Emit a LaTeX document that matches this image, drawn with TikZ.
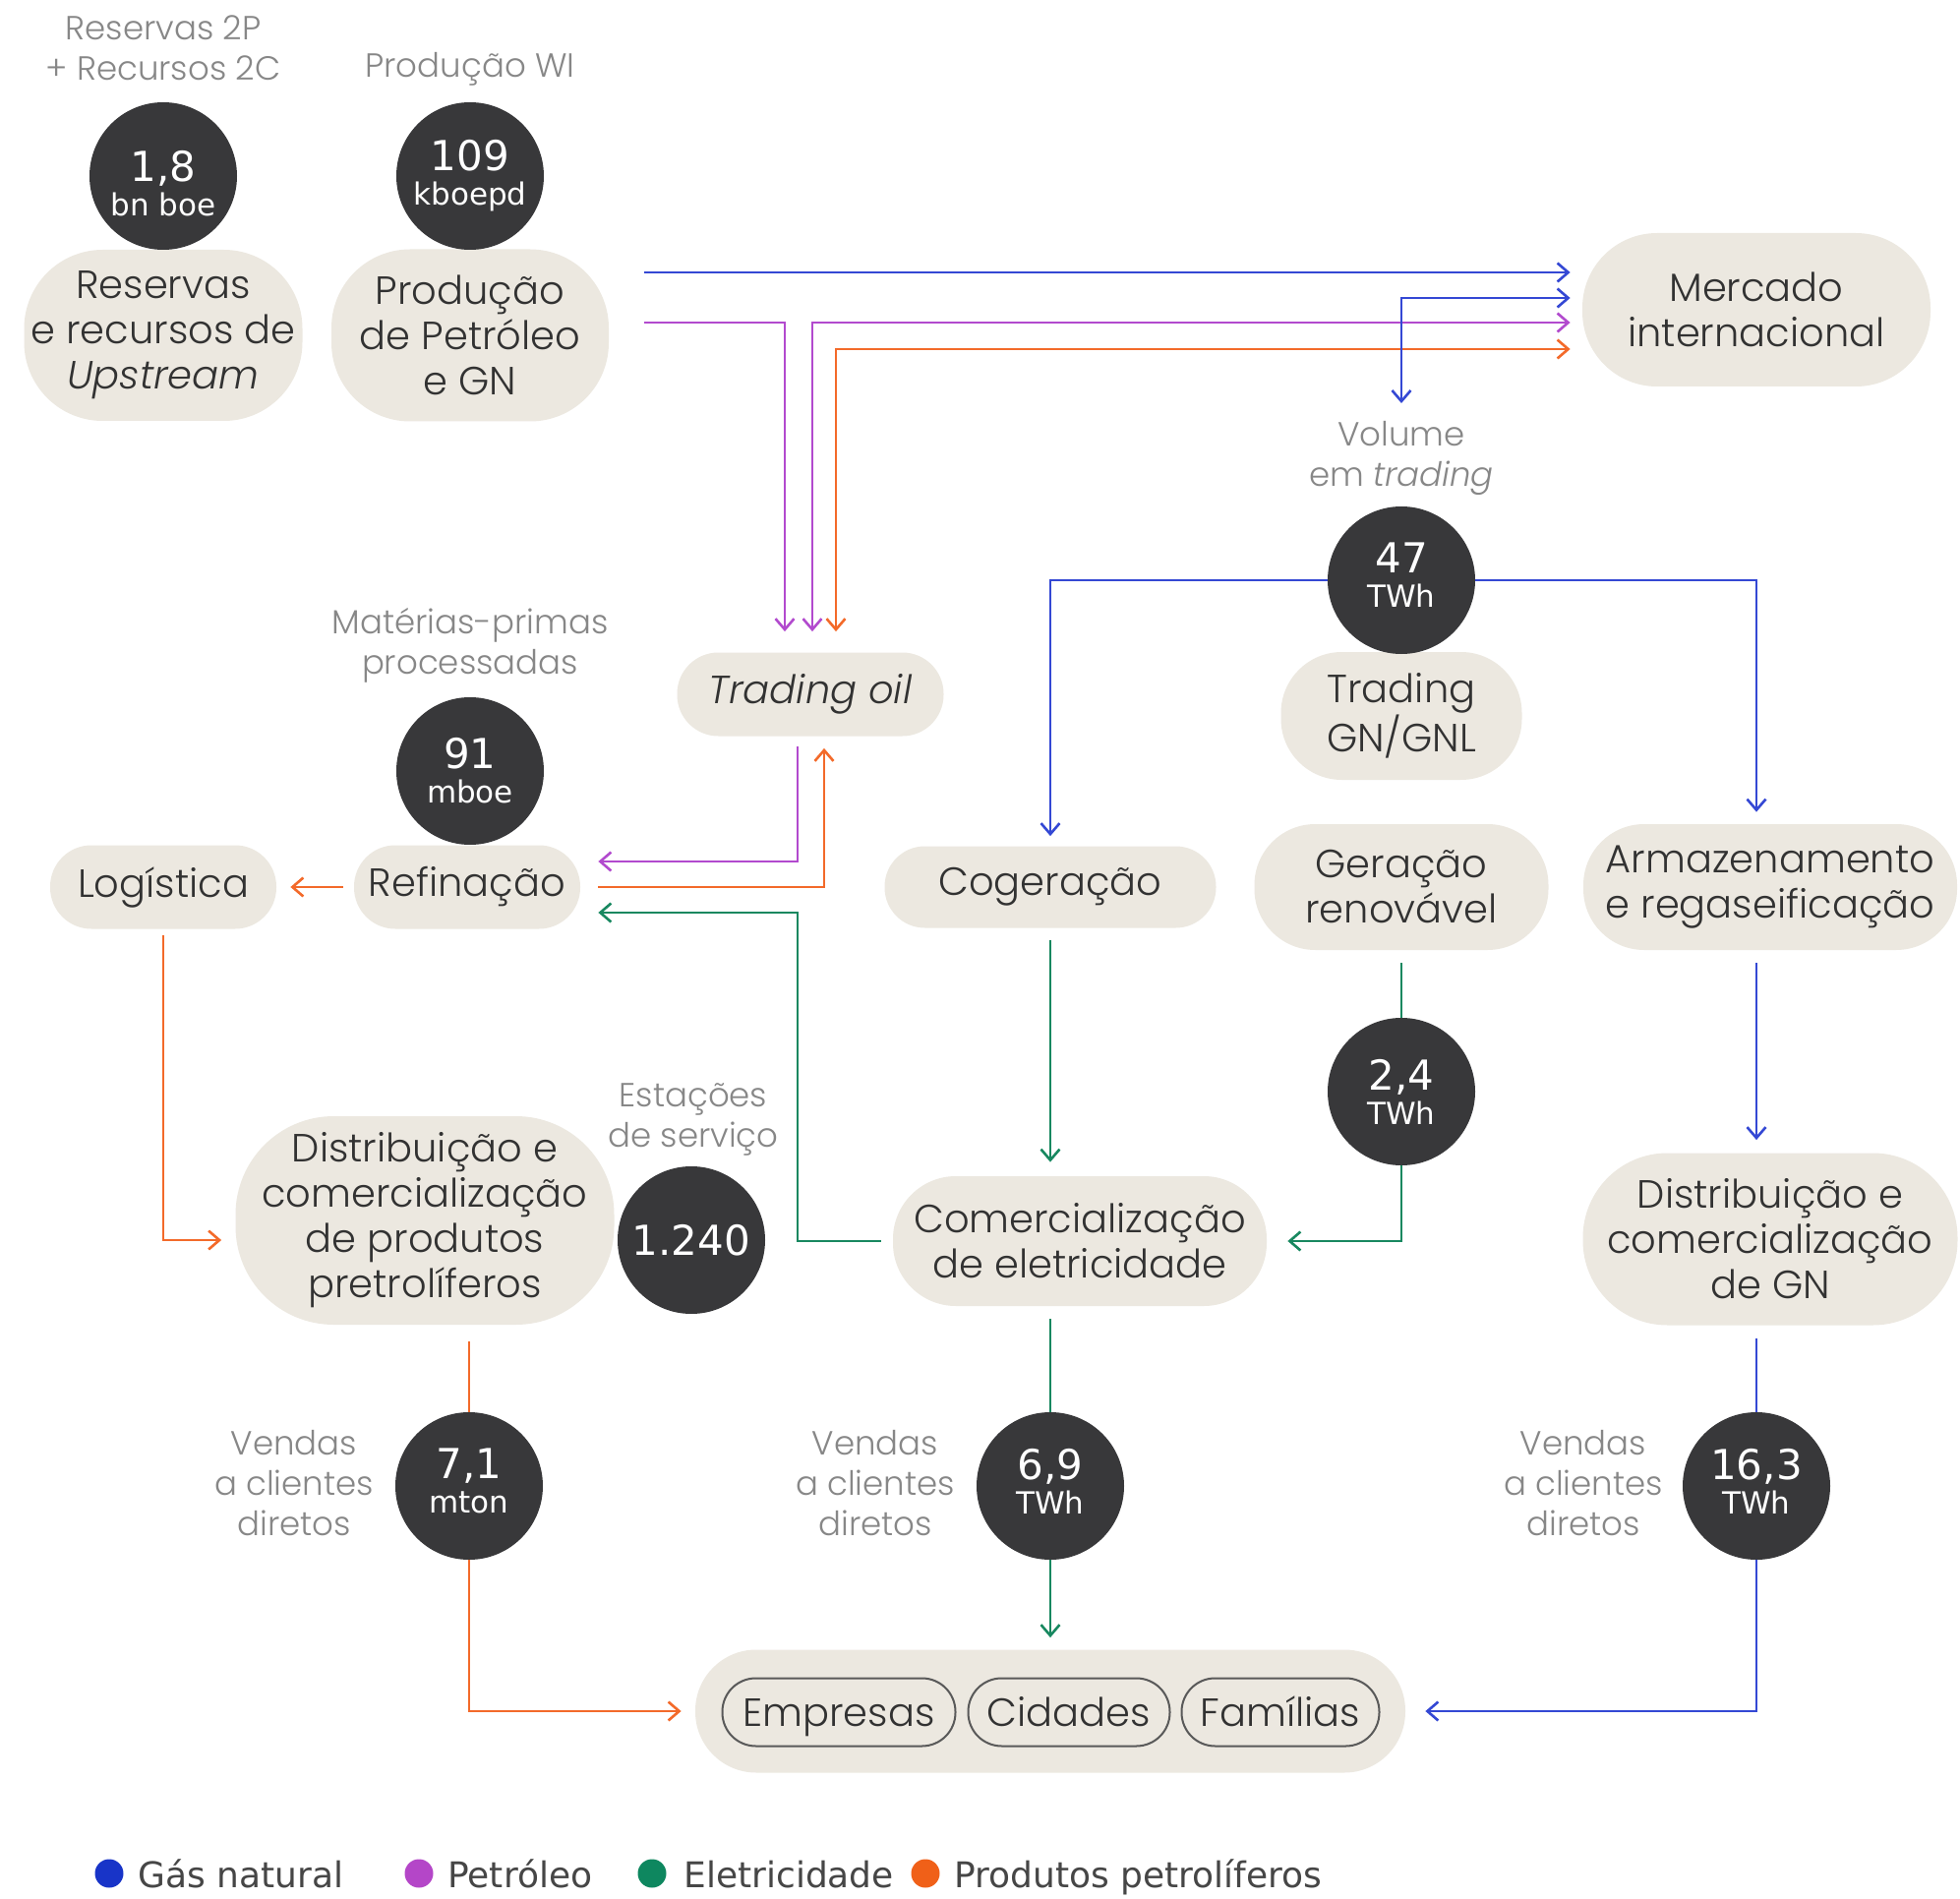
\documentclass[tikz,border=0pt]{standalone}
\usepackage{fontspec}
\setmainfont{Poppins Light}[ItalicFont={Poppins Light Italic}]
\newfontfamily\numfont{DejaVu Sans}
\usetikzlibrary{arrows.meta}
\definecolor{beige}{RGB}{236,232,224}
\definecolor{darkc}{RGB}{56,56,58}
\definecolor{txtc}{RGB}{50,50,50}
\definecolor{capc}{RGB}{135,135,135}
\definecolor{legc}{RGB}{70,70,70}
\definecolor{cGas}{RGB}{52,72,212}
\definecolor{cOil}{RGB}{178,74,206}
\definecolor{cEle}{RGB}{24,136,96}
\definecolor{cPro}{RGB}{243,106,42}
\definecolor{lGas}{RGB}{24,52,200}
\definecolor{lOil}{RGB}{180,70,200}
\definecolor{lEle}{RGB}{14,135,95}
\definecolor{lPro}{RGB}{240,96,24}
\newcommand\bignum[1]{{\fontsize{21}{17.5}\selectfont #1}}
\newcommand\unitt[1]{{\fontsize{15.5}{17.5}\selectfont #1}}
\newcommand\upstrut{\rule[-5pt]{0pt}{0pt}}
\begin{document}
\begin{tikzpicture}[x=0.5pt,y=-0.5pt,
  pill/.style n args={3}{fill=beige, text=txtc, align=center, inner sep=0pt,
    minimum width=#1, minimum height=#2, rounded corners=#3, font=\fontsize{20}{23}\selectfont},
  inpill/.style={fill=beige, draw=black!65, line width=1pt, text=txtc, inner sep=0pt,
    minimum width=#1, minimum height=34.5pt, rounded corners=17pt, text height=14.8pt, text depth=0.2pt,
    font=\fontsize{20}{23}\selectfont},
  circ/.style={circle, fill=darkc, text=white, minimum size=75pt, inner sep=0pt, align=center,
    font=\numfont\fontsize{15.5}{17.5}\selectfont},
  captxt/.style={text=capc, align=center, font=\fontsize{17}{20.5}\selectfont},
  flow/.style={line width=1.3pt},
  gasl/.style={flow, draw=cGas},
  oill/.style={flow, draw=cOil},
  elel/.style={flow, draw=cEle},
  prol/.style={flow, draw=cPro},
  legdot/.style={circle, minimum size=14.5pt, inner sep=0pt},
  legtxt/.style={font=\numfont\fontsize{18}{20}\selectfont, text=legc, inner sep=0pt},
  >={Straight Barb[length=5.5pt,width=9.5pt]}
]
\fill[white] (0,0) rectangle (1993,1931);
\useasboundingbox (0,0) rectangle (1993,1931);

% top row
\node[captxt] (t1) at (166,49) {Reservas 2P\\+ Recursos 2C};
\node[captxt] (t2) at (478,70) {Produção WI};
\node[pill={141.5pt}{87pt}{40pt}] (pRes) at (166,341) {Reservas\\e recursos de\\\textit{Upstream}};
\node[pill={141pt}{87.5pt}{40pt}] (pProd) at (478,341) {Produção\\de Petróleo\\e GN};
\node[circ] (c18) at (166,179) {\rule{0pt}{23pt}\bignum{1,8}\\\unitt{bn boe}};
\node[circ] (c109) at (478,179) {\bignum{109}\\\unitt{kboepd}};
\node[pill={177pt}{78pt}{38pt}] (pMerc) at (1786,315) {Mercado\\internacional};

% trading
\node[captxt] (t3) at (1425,466) {Volume\\em \textit{trading}};
\node[pill={122.5pt}{65pt}{31pt}] (pTGN) at (1425,728) {Trading\\GN/GNL};
\node[circ] (c47) at (1425,590) {\bignum{47}\\\unitt{TWh\upstrut}};
\node[pill={135.5pt}{42.5pt}{21pt}] (pTOil) at (824,706) {\textit{Trading oil}};

% refining row
\node[captxt] (t4) at (478,656) {Matérias-primas\\processadas};
\node[pill={115pt}{42.5pt}{21pt}] (pLog) at (166,902) {Logística};
\node[pill={115pt}{42.5pt}{21pt}] (pRef) at (475,902) {Refinação};
\node[circ] (c91) at (478,784) {\bignum{91}\\\unitt{mboe}};
\node[pill={168.5pt}{41.5pt}{20.5pt}] (pCog) at (1068,902) {Cogeração};
\node[pill={149.5pt}{64pt}{31pt}] (pGer) at (1425,902) {Geração\\renovável};
\node[pill={190pt}{64pt}{31pt}] (pArm) at (1800,902) {Armazenamento\\e regaseificação};

% distribution row
\node[circ] (c24) at (1425,1110) {\bignum{2,4}\\\unitt{TWh}};
\node[pill={192.5pt}{106pt}{50pt}] (pDistP) at (432,1241) {Distribuição e\\comercialização\\de produtos\\pretrolíferos};
\node[captxt] (t5) at (705,1138) {Estações\\de serviço};
\node[circ] (c1240) at (703,1261) {\bignum{1.240}};
\node[pill={190pt}{66pt}{32pt}] (pCom) at (1098,1262) {Comercialização\\de eletricidade};
\node[pill={190.5pt}{87.5pt}{43pt}] (pDistGN) at (1800,1260) {Distribuição e\\comercialização\\de GN};

% sales row
\node[circ] (c71) at (477,1511) {\bignum{7,1}\\\unitt{mton\upstrut}};
\node[circ] (c69) at (1068,1511) {\bignum{6,9}\\\unitt{TWh\upstrut}};
\node[circ] (c163) at (1786,1511) {\bignum{16,3}\\\unitt{TWh\upstrut}};
\node[captxt] (t6) at (299,1508) {Vendas\\a clientes\\diretos};
\node[captxt] (t7) at (890,1508) {Vendas\\a clientes\\diretos};
\node[captxt] (t8) at (1610,1508) {Vendas\\a clientes\\diretos};

% clients
\node[pill={361pt}{62.5pt}{31pt}] (pCli) at (1068,1740) {};
\node[inpill=118.5pt] (pEmp) at (853,1741) {Empresas};
\node[inpill=102.5pt] (pCid) at (1087,1741) {Cidades};
\node[inpill=100.5pt] (pFam) at (1302,1741) {Famílias};

% connectors
\coordinate (sg) at (655,277);
\coordinate (sp) at (655,328);
\coordinate (vt) at (1425,410);
\coordinate (gk) at (811,928);

\draw[gasl,->,shorten >=6pt] (sg) -- (pMerc.west |- sg);
\draw[oill,->,shorten >=10.5pt] (sp) -| ([xshift=-13pt]pTOil.north);
\draw[oill,<->,shorten <=10.5pt,shorten >=6pt] ([xshift=1pt]pTOil.north) |- (pMerc.west |- 0,328);
\draw[prol,<->,shorten <=10.5pt,shorten >=6pt] ([xshift=13pt]pTOil.north) |- (pMerc.west |- 0,355);
\draw[gasl,<->,shorten >=6pt] (vt) |- (pMerc.west |- 0,303);

\draw[oill,->,shorten <=5pt,shorten >=9pt] ([xshift=-6.5pt]pTOil.south) |- ([yshift=13pt]pRef.east);
\draw[prol,->,shorten <=9pt,shorten >=6pt] (pRef.east) -| ([xshift=7pt]pTOil.south);
\draw[elel,->,shorten <=6pt,shorten >=9pt] (pCom.west) -| (gk) -- ([yshift=-13pt]pRef.east);
\draw[prol,->,shorten <=5.5pt,shorten >=7pt] (pRef.west) -- (pLog.east);
\draw[prol,->,shorten <=3pt,shorten >=7pt] (pLog.south) |- ([yshift=-10pt]pDistP.west);

\draw[gasl,->,shorten >=5pt] (c47.west) -| (pCog.north);
\draw[gasl,->,shorten >=6pt] (c47.east) -| ([xshift=-7pt]pArm.north);
\draw[elel,->,shorten <=6pt,shorten >=7pt] (pCog.south) -- (pCog.south |- pCom.north);
\draw[elel,shorten <=6.5pt] (pGer.south) -- (c24.north);
\draw[elel,->,shorten >=10.5pt] (c24.south) |- (pCom.east);
\draw[gasl,->,shorten <=6.5pt,shorten >=6.5pt] ([xshift=-7pt]pArm.south) -- ([xshift=-7pt]pDistGN.north);
\draw[gasl,shorten <=6.5pt] ([xshift=-7pt]pDistGN.south) -- (c163.north);
\draw[gasl,->,shorten >=10pt] (c163.south) |- (pCli.east);
\draw[elel,shorten <=6.5pt] (pCom.south -| c69) -- (c69.north);
\draw[elel,->,shorten >=6pt] (c69.south) -- (c69.south |- pCli.north);
\draw[prol,shorten <=8.5pt] (pDistP.south -| c71) -- (c71.north);
\draw[prol,->,shorten >=7pt] (c71.south) |- (pCli.west);

% legend
\node[legdot, fill=lGas] (d1) at (111,1905) {};
\node[legtxt, anchor=base west] (l1) at (140,1919) {Gás natural};
\node[legdot, fill=lOil] (d2) at (426,1905) {};
\node[legtxt, anchor=base west] (l2) at (455,1919) {Petróleo};
\node[legdot, fill=lEle] (d3) at (663,1905) {};
\node[legtxt, anchor=base west] (l3) at (695,1919) {Eletricidade};
\node[legdot, fill=lPro] (d4) at (941,1905) {};
\node[legtxt, anchor=base west] (l4) at (970,1919) {Produtos petrolíferos};
\end{tikzpicture}
\end{document}
